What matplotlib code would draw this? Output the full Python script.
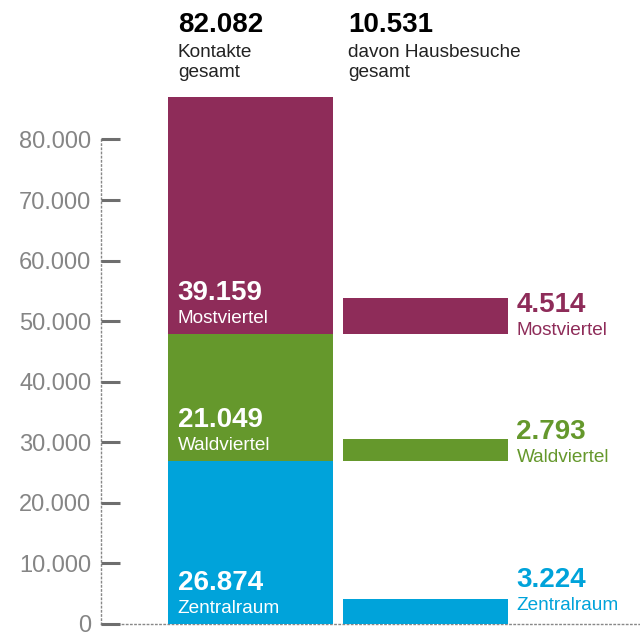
import matplotlib
matplotlib.use("Agg")
import matplotlib.pyplot as plt
from matplotlib.ticker import FixedLocator, FuncFormatter

plt.rcParams['font.family'] = ['Liberation Sans', 'DejaVu Sans']

# data (bottom to top)
regions = ['Zentralraum', 'Waldviertel', 'Mostviertel']
kontakte = [26874, 21049, 39159]
hausbesuche = [3224, 2793, 4514]
colors = ['#00A3DA', '#65982C', '#8E2C59']
total_label = '82.082'   # as printed in the original
hb_total_label = '10.531'
yticks = [0, 10000, 20000, 30000, 40000, 50000, 60000, 70000, 80000]

HB_SCALE = 1.3  # right bars are drawn slightly magnified in the original


def fmt(v):
    return f"{int(v):,}".replace(",", ".")


fig = plt.figure(figsize=(6.4, 6.36), dpi=100)
ax = fig.add_axes([101 / 640, 12 / 636, 539 / 640, 533 / 636])
ax.set_xlim(0, 1)
ax.set_ylim(0, 88000)

left_x, right_x, w = 0.124, 0.449, 0.307

bottoms = []
b = 0
for v in kontakte:
    bottoms.append(b)
    b += v

ax.bar(left_x, kontakte, bottom=bottoms, width=w, color=colors, align='edge', zorder=2)
ax.bar(right_x, [h * HB_SCALE for h in hausbesuche], bottom=bottoms, width=w,
       color=colors, align='edge', zorder=2)

# labels inside the left bar
for v, base, name in zip(kontakte, bottoms, regions):
    ax.annotate(name, xy=(left_x, base), xytext=(10, 11), textcoords='offset pixels',
                color='white', fontsize=13.7, va='baseline', ha='left')
    ax.annotate(fmt(v), xy=(left_x, base), xytext=(10, 34), textcoords='offset pixels',
                color='white', fontsize=20, fontweight='bold', va='baseline', ha='left')

# labels right of the small bars
for h, base, name, c in zip(hausbesuche, bottoms, regions, colors):
    off = 14 if base == 0 else -1
    ax.annotate(name, xy=(right_x + w, base), xytext=(8, off), textcoords='offset pixels',
                color=c, fontsize=13.7, va='baseline', ha='left')
    ax.annotate(fmt(h), xy=(right_x + w, base), xytext=(8, off + 23), textcoords='offset pixels',
                color=c, fontsize=20, fontweight='bold', va='baseline', ha='left')

# headers
for x, dx, num, lines in [(left_x, 10, total_label, ['Kontakte', 'gesamt']),
                          (right_x, 5, hb_total_label, ['davon Hausbesuche', 'gesamt'])]:
    ax.annotate(num, xy=(x, 1), xycoords=('data', 'figure fraction'), xytext=(dx, -32),
                textcoords='offset pixels', fontsize=20, fontweight='bold', color='black',
                va='baseline', annotation_clip=False)
    for i, line in enumerate(lines):
        ax.annotate(line, xy=(x, 1), xycoords=('data', 'figure fraction'),
                    xytext=(dx, -57 - 20 * i), textcoords='offset pixels', fontsize=13.7,
                    color='#222222', va='baseline', annotation_clip=False)

# axes styling
for s in ['top', 'right']:
    ax.spines[s].set_visible(False)
for s in ['left', 'bottom']:
    ax.spines[s].set_linestyle((0, (1, 2)))
    ax.spines[s].set_color('#888888')
    ax.spines[s].set_linewidth(1)
    ax.spines[s].set_zorder(1)
ax.spines['left'].set_bounds(0, 80000)

ax.yaxis.set_major_locator(FixedLocator(yticks))
ax.yaxis.set_major_formatter(FuncFormatter(lambda v, p: fmt(v)))
ax.tick_params(axis='y', direction='in', length=13.7, width=2.2, color='#6E6E6E',
               labelcolor='#858585', labelsize=17, pad=7)
ax.set_xticks([])

fig.savefig('out.png', dpi=100)
